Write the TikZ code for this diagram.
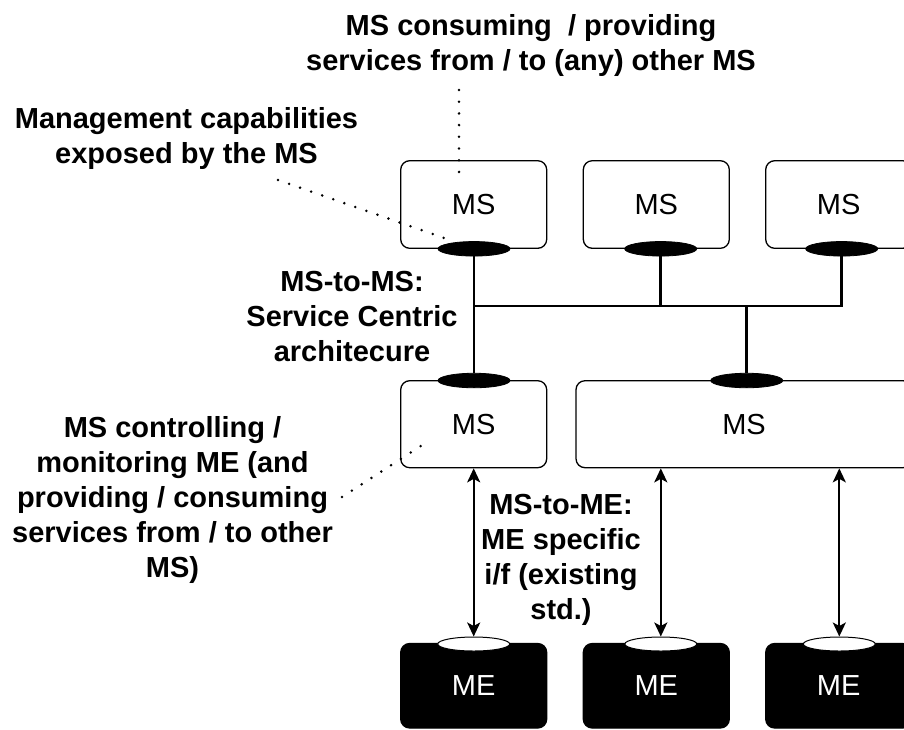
\documentclass[tikz,border=0pt]{standalone}
\usepackage{fontspec}
\setmainfont{Liberation Sans}
\usetikzlibrary{shapes.geometric,arrows.meta}
\tikzset{
  msbox/.style={draw=black, line width=1.3pt, rounded corners=9pt, fill=white, inner sep=0pt,
    minimum width=146pt, minimum height=87.6pt, font=\fontsize{29}{35}\selectfont},
  mebox/.style={draw=black, fill=black, line width=1.3pt, rounded corners=9pt, inner sep=0pt,
    minimum width=146pt, minimum height=84.5pt, text=white, font=\fontsize{29}{35}\selectfont},
  port/.style={ellipse, fill=black, draw=black, line width=0.8pt, inner sep=0pt,
    minimum width=72pt, minimum height=14.5pt},
  portw/.style={ellipse, fill=white, draw=black, line width=1pt, inner sep=0pt,
    minimum width=72pt, minimum height=14pt},
  lbl/.style={align=center, inner sep=0pt, anchor=base,
    font=\fontsize{29}{35}\selectfont\bfseries},
  dots/.style={line width=2.8pt, dash pattern=on 0pt off 11.7pt, line cap=round},
  bus/.style={line width=2.7pt},
  arr/.style={line width=2.3pt, {Stealth[length=14pt,width=13pt,inset=3.5pt]}-{Stealth[length=14pt,width=13pt,inset=3.5pt]}}
}
\begin{document}
\begin{tikzpicture}[x=1pt,y=-1pt]
\useasboundingbox (0,0) rectangle (904,729);
\clip (0,0) rectangle (904,729);

% top MS boxes
\node[msbox] (ms1) at (473.7,204.5) {MS};
\node[msbox] (ms2) at (656.3,204.5) {MS};
\node[msbox] (ms3) at (838.7,204.5) {MS};
% lower MS boxes
\node[msbox, minimum height=87pt] (msb1) at (473.7,424.2) {MS};
\node[msbox, minimum height=87pt, minimum width=336pt] (msb2) at (744,424.2) {MS};
% ME boxes
\node[mebox] (me1) at (473.7,685.75) {ME};
\node[mebox] (me2) at (656.3,685.75) {ME};
\node[mebox] (me3) at (838.7,685.75) {ME};

% ports
\node[port] (t1) at (474,248.8) {};
\node[port] (t2) at (660.7,248.8) {};
\node[port] (t3) at (841.7,248.8) {};
\node[port] (b1) at (474,380.5) {};
\node[port] (b2) at (746.7,380.5) {};
\node[portw] (w1) at (473.7,644) {};
\node[portw] (w2) at (660.8,644) {};
\node[portw] (w3) at (839.3,644) {};

% service bus
\coordinate (busL) at (474,306);
\draw[bus] (t1) -- (b1);
\draw[bus] (t3) |- (busL);
\draw[bus] (t2) -- (t2 |- busL);
\draw[bus] (b2) -- (b2 |- busL);

% MS-ME arrows
\draw[arr] (w1.north |- msb1.south) -- (w1.north);
\draw[arr] (w2.north |- msb2.south) -- (w2.north);
\draw[arr] (w3.north |- msb2.south) -- (w3.north);

% labels (anchor = baseline of the last line)
\node[lbl] (l1) at (531,70) {MS consuming\ \ / providing\\services from / to (any) other MS};
\node[lbl] (l2) at (186.5,163) {Management capabilities\\exposed by the MS};
\node[lbl] (l3) at (352,361.5) {MS-to-MS:\\Service Centric\\architecure};
\node[lbl] (l4) at (172.5,577.3) {MS controlling /\\monitoring ME (and\\providing / consuming\\services from / to other\\MS)};
\node[lbl] (l5) at (561,619) {MS-to-ME:\\ME specific\\i/f (existing\\std.)};

% dotted callouts
\coordinate (d1a) at (459,90);
\coordinate (d1b) at (459,173);
\coordinate (d2a) at (278,180);
\coordinate (d2b) at (447,239);
\coordinate (d4a) at (342,497);
\coordinate (d4b) at (430,440);
\draw[dots] (d1a) -- (d1b);
\draw[dots] (d2a) -- (d2b);
\draw[dots] (d4a) -- (d4b);
\end{tikzpicture}
\end{document}
